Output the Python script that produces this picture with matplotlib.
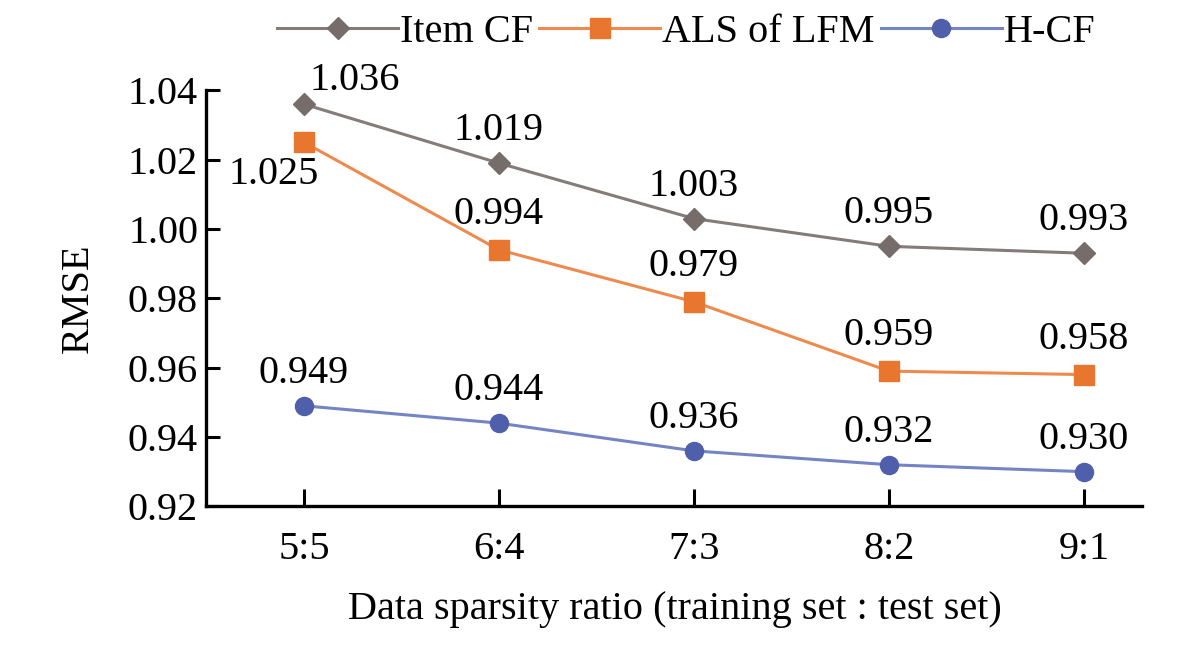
import matplotlib
matplotlib.use("Agg")
import matplotlib.pyplot as plt
import numpy as np

plt.rcParams['font.family'] = ['Liberation Serif', 'DejaVu Serif']

# data
ratios = ["5:5", "6:4", "7:3", "8:2", "9:1"]
item_cf = [1.036, 1.019, 1.003, 0.995, 0.993]
als_lfm = [1.025, 0.994, 0.979, 0.959, 0.958]
h_cf = [0.949, 0.944, 0.936, 0.932, 0.930]
yticks = [0.92, 0.94, 0.96, 0.98, 1.00, 1.02, 1.04]

fig = plt.figure(figsize=(12, 6.45), dpi=100)
ax = fig.add_axes([0.172, 0.215, 0.78, 0.645])

x = np.arange(len(ratios))
l1, = ax.plot(x, item_cf, color='#857b78', lw=2.2, marker='D', ms=11,
              mfc='#766d6b', mec='#766d6b', label='Item CF')
l2, = ax.plot(x, als_lfm, color='#ee8a4e', lw=2.2, marker='s', ms=15,
              mfc='#e8762f', mec='#e8762f', label='ALS of LFM')
l3, = ax.plot(x, h_cf, color='#7584c4', lw=2.2, marker='o', ms=13,
              mfc='#4f5fab', mec='#4f5fab', label='H-CF')

fs = 29
# value labels
for i, v in enumerate(item_cf):
    if i == 0:
        ax.annotate('%.3f' % v, (x[i], v), xytext=(4, 4), textcoords='offset points',
                    ha='left', va='bottom', fontsize=fs)
    else:
        ax.annotate('%.3f' % v, (x[i], v), xytext=(0, 10), textcoords='offset points',
                    ha='center', va='bottom', fontsize=fs)
for i, v in enumerate(als_lfm):
    if i == 0:
        ax.annotate('%.3f' % v, (x[i], v), xytext=(-22, -10), textcoords='offset points',
                    ha='center', va='top', fontsize=fs)
    else:
        ax.annotate('%.3f' % v, (x[i], v), xytext=(0, 12), textcoords='offset points',
                    ha='center', va='bottom', fontsize=fs)
for i, v in enumerate(h_cf):
    ax.annotate('%.3f' % v, (x[i], v), xytext=(0, 10), textcoords='offset points',
                ha='center', va='bottom', fontsize=fs)

ax.set_xlim(-0.5, 4.3)
ax.set_ylim(0.92, 1.04)
ax.set_xticks(x)
ax.set_xticklabels(ratios)
ax.set_yticks(yticks)
ax.set_yticklabels(['%.2f' % t for t in yticks])
ax.tick_params(axis='both', direction='in', labelsize=fs, width=2.2)
ax.tick_params(axis='y', length=10, pad=6)
ax.tick_params(axis='x', length=12, pad=18)
for s in ['top', 'right']:
    ax.spines[s].set_visible(False)
for s in ['left', 'bottom']:
    ax.spines[s].set_linewidth(2.4)

ax.set_ylabel('RMSE', fontsize=fs, labelpad=22)
ax.set_xlabel('Data sparsity ratio (training set : test set)', fontsize=fs, labelpad=16)

fig.legend(handles=[l1, l2, l3], loc='center', bbox_to_anchor=(0.572, 0.95), ncol=3,
           frameon=False, fontsize=fs, handlelength=3.0, handletextpad=0.05,
           columnspacing=0.15, borderpad=0)

fig.savefig('out.png', dpi=100)
